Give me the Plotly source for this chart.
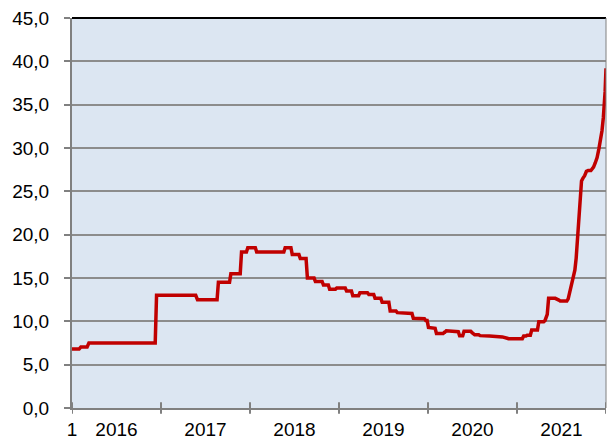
import plotly.graph_objects as go

# Readings: time (years since start of 2016) and value
t_years = [0.00, 0.08, 0.10, 0.17, 0.19, 0.935, 0.95, 1.39, 1.41, 1.63, 1.645, 1.77, 1.785,
           1.89, 1.905, 1.96, 1.975, 2.06, 2.075, 2.38, 2.395, 2.46, 2.475, 2.55, 2.565,
           2.63, 2.645, 2.72, 2.735, 2.81, 2.825, 2.88, 2.895, 2.96, 2.975, 3.07, 3.085,
           3.14, 3.155, 3.22, 3.235, 3.32, 3.335, 3.39, 3.405, 3.47, 3.485, 3.56, 3.575,
           3.64, 3.655, 3.79, 3.805, 3.82, 3.835, 3.96, 3.975, 3.99, 4.005, 4.06, 4.075,
           4.08, 4.095, 4.17, 4.185, 4.19, 4.205, 4.31, 4.325, 4.34, 4.355, 4.39, 4.405,
           4.48, 4.495, 4.51, 4.525, 4.57, 4.585, 4.69, 4.705, 4.82, 4.835, 4.89, 4.905,
           5.06, 5.075, 5.10, 5.115, 5.15, 5.165, 5.23, 5.245, 5.30, 5.315, 5.34, 5.355,
           5.43, 5.445, 5.47, 5.485, 5.56, 5.575, 5.59, 5.61, 5.63, 5.65, 5.665, 5.68,
           5.695, 5.71, 5.725, 5.74, 5.76, 5.78, 5.80, 5.83, 5.86, 5.88, 5.90, 5.92,
           5.94, 5.955, 5.97, 5.98, 5.99, 6.0]
values = [6.8, 6.8, 7.05, 7.05, 7.5, 7.5, 13.0, 13.0, 12.5, 12.5, 14.5, 14.5, 15.5,
          15.5, 18.0, 18.0, 18.5, 18.5, 18.0, 18.0, 18.5, 18.5, 17.7, 17.7, 17.25,
          17.25, 15.0, 15.0, 14.6, 14.6, 14.2, 14.2, 13.7, 13.7, 13.85, 13.85, 13.5,
          13.5, 12.95, 12.95, 13.3, 13.3, 13.1, 13.1, 12.65, 12.65, 12.2, 12.2, 11.2,
          11.2, 11.0, 10.95, 10.9, 10.9, 10.35, 10.3, 10.1, 10.1, 9.3, 9.3, 9.2,
          9.2, 8.6, 8.6, 8.75, 8.75, 8.9, 8.85, 8.8, 8.8, 8.35, 8.35, 8.85,
          8.85, 8.7, 8.6, 8.45, 8.45, 8.35, 8.3, 8.3, 8.25, 8.2, 8.05, 8.0,
          8.0, 8.3, 8.3, 8.4, 8.4, 9.0, 9.0, 9.95, 9.95, 10.1, 10.8, 12.65,
          12.65, 12.6, 12.45, 12.35, 12.35, 12.6, 13.2, 14.0, 14.9, 15.9, 17.3, 19.5,
          21.8, 24.0, 26.2, 26.5, 26.8, 27.3, 27.4, 27.4, 27.8, 28.3, 28.9, 29.9,
          30.9, 32.0, 33.5, 34.7, 36.5, 39.2]

start_year = 2016
years = [2016, 2017, 2018, 2019, 2020, 2021]
x_labels = ["1"] + [str(y) for y in years]
y_ticks = [0, 5, 10, 15, 20, 25, 30, 35, 40, 45]

x = [start_year + t for t in t_years]

fig = go.Figure()
fig.add_trace(go.Scatter(x=x, y=values, mode="lines",
                         line=dict(color="#c00000", width=3.5), showlegend=False,
                         hoverinfo="skip"))

label_pos = [start_year] + [y + 0.5 for y in years]
end_year = years[-1] + 1

shapes = []
# crossing tick marks on x axis
for yr in range(start_year, end_year + 1):
    shapes.append(dict(type="line", xref="x", yref="paper", x0=yr, x1=yr, y0=-0.015, y1=0.015,
                       line=dict(color="#808080", width=2)))
# top black border
shapes.append(dict(type="line", xref="paper", yref="paper", x0=0, x1=1, y0=1, y1=1,
                   line=dict(color="black", width=2)))
# right thin border
shapes.append(dict(type="line", xref="paper", yref="paper", x0=1, x1=1, y0=0, y1=1,
                   line=dict(color="#808080", width=1)))

fig.update_layout(
    width=607, height=441,
    margin=dict(l=72, r=1, t=18, b=33, autoexpand=False),
    paper_bgcolor="white",
    plot_bgcolor="#dce6f2",
    separators=",.",
    font=dict(family="Liberation Sans, Arial, sans-serif", size=19, color="black"),
    shapes=shapes,
    xaxis=dict(range=[start_year, end_year], tickvals=label_pos, ticktext=x_labels,
               ticks="", showgrid=False, zeroline=False, showline=True,
               linecolor="#808080", linewidth=2, tickfont=dict(size=19),
               ticklabelstandoff=3, automargin=False),
    yaxis=dict(range=[0, 45], tickvals=y_ticks, tickformat=".1f", ticks="outside",
               ticklen=6, tickcolor="#808080", tickwidth=2,
               showgrid=True, gridcolor="#8c8c8c", gridwidth=2, zeroline=False,
               showline=True, linecolor="#808080", linewidth=2, tickfont=dict(size=19),
               ticklabelstandoff=11, automargin=False),
)

fig.write_html("out.html", config={"displayModeBar": False},
               post_script="document.body.style.margin='0';document.body.style.padding='0';")
